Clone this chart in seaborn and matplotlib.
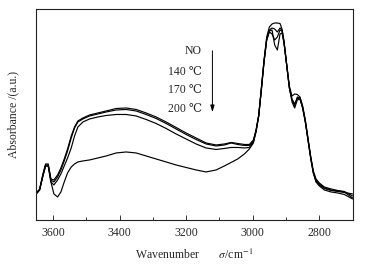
import matplotlib
matplotlib.use('Agg')
import matplotlib.pyplot as plt
import seaborn as sns
import numpy as np
import pandas as pd

# wavenumber grid (cm-1) shared by all spectra
wavenumber = [3650, 3640, 3630, 3622, 3614, 3606, 3597, 3586, 3576, 3566,
              3556, 3545, 3535, 3525, 3510, 3490, 3465, 3440, 3410, 3380,
              3350, 3320, 3290, 3260, 3230, 3200, 3170, 3140, 3110, 3085,
              3065, 3045, 3025, 3010, 2998, 2990, 2982, 2974, 2966, 2958,
              2950, 2942, 2934, 2926, 2918, 2912, 2906, 2898, 2890, 2882,
              2874, 2866, 2858, 2850, 2842, 2834, 2826, 2818, 2810, 2800,
              2785, 2765, 2745, 2725, 2700]

# absorbance (arbitrary units)
abs_no = [27, 31, 46, 56, 56, 41, 40, 45, 52, 61,
          71, 84, 93, 99, 102, 105, 107, 109, 111.5, 112,
          110.5, 107, 103, 98, 92.5, 87, 82, 77, 75, 76,
          77.5, 76.5, 75.5, 75.5, 80, 90, 105, 132, 160, 183,
          193, 196, 197, 197, 196.5, 191, 179, 156, 134, 124,
          126, 125.5, 123, 114, 100, 82, 64, 49, 41, 37,
          33, 31, 29.5, 28.5, 24]

abs_140 = [26, 30, 45, 55, 55, 40, 38, 43, 50, 59,
           69, 82, 92, 98, 101, 104, 106, 108, 110, 110.5,
           109, 105.5, 101.5, 96.5, 91, 85.5, 80.5, 76, 74, 75,
           77, 75.5, 74.5, 74.5, 79, 89, 104, 131, 159, 181,
           190, 192, 191, 188, 192, 190, 178, 155, 132, 120,
           114, 123, 122, 113, 99, 81, 63, 48, 40, 36,
           32, 30, 29, 28, 22]

abs_170 = [27, 30, 44, 54, 54, 38, 35, 40, 46, 54,
           62, 72, 84, 93, 98, 101, 103, 104.5, 105.5, 105.5,
           104, 100.5, 96.5, 91.5, 86, 81, 76, 72, 70.5, 71.5,
           72.5, 72.5, 72, 72.5, 78, 89, 104, 131, 158, 180,
           188, 186, 180, 183, 190, 189, 177, 155, 132, 121,
           116, 122, 121, 112, 98, 80, 62, 47, 39, 35,
           31.5, 29.5, 28.5, 27.5, 26]

abs_200 = [26, 30, 44, 54, 54, 38, 26, 23, 28, 38,
           47, 53, 56, 58, 59, 60, 62, 64, 67, 68,
           67, 64, 61, 58, 55, 52.5, 50, 48, 50, 54,
           57.5, 61, 66, 71, 77, 88, 104, 130, 158, 180,
           189, 190, 175, 170, 186, 187, 177, 155, 133, 118,
           112, 120, 121, 112, 98, 80, 62, 47, 38, 34,
           30, 28, 27, 25.5, 21]

labels = ['NO', '140 \u2103', '170 \u2103', '200 \u2103']
series = [abs_no, abs_140, abs_170, abs_200]

sns.set_style('ticks')
plt.rcParams['font.family'] = ['Liberation Serif', 'DejaVu Serif']
plt.rcParams['mathtext.fontset'] = 'stix'

fig = plt.figure(figsize=(3.70, 2.65), dpi=100)
ax = fig.add_axes([0.098, 0.170, 0.855, 0.796])

for lab, vals in zip(labels, series):
    df = pd.DataFrame({'w': wavenumber, 'a': vals})
    sns.lineplot(data=df, x='w', y='a', ax=ax, color='black', lw=0.85,
                 sort=False, estimator=None)

ax.set_xlim(3650, 2700)
ax.set_ylim(0, 211)
ax.set_xticks([3600, 3400, 3200, 3000, 2800])
ax.set_xticks([3500, 3300, 3100, 2900], minor=True)
ax.set_yticks([])
ax.tick_params(axis='x', which='major', direction='in', length=3.5,
               width=0.7, labelsize=8.5, pad=5, color='#333333')
ax.tick_params(axis='x', which='minor', direction='in', length=2,
               width=0.7, color='#333333')
for s in ax.spines.values():
    s.set_linewidth(0.8)
    s.set_color('#222222')

ax.set_xlabel(r'Wavenumber       $\sigma$/cm$^{-1}$', fontsize=8.5,
              labelpad=6)
ax.set_ylabel('Absorbance /(a.u.)', fontsize=8.5, labelpad=12)

# legend-like annotation with arrow
tx = 3153
for lab, ty in zip(labels, [168.5, 147.5, 129.5, 110.5]):
    ax.text(tx, ty, lab, ha='right', va='center', fontsize=8.5)
ax.annotate('', xy=(3121, 105), xytext=(3121, 172),
            arrowprops=dict(arrowstyle='-|>,head_width=0.12,head_length=0.4',
                            color='black', lw=0.7))

fig.savefig('out.png', dpi=100)
